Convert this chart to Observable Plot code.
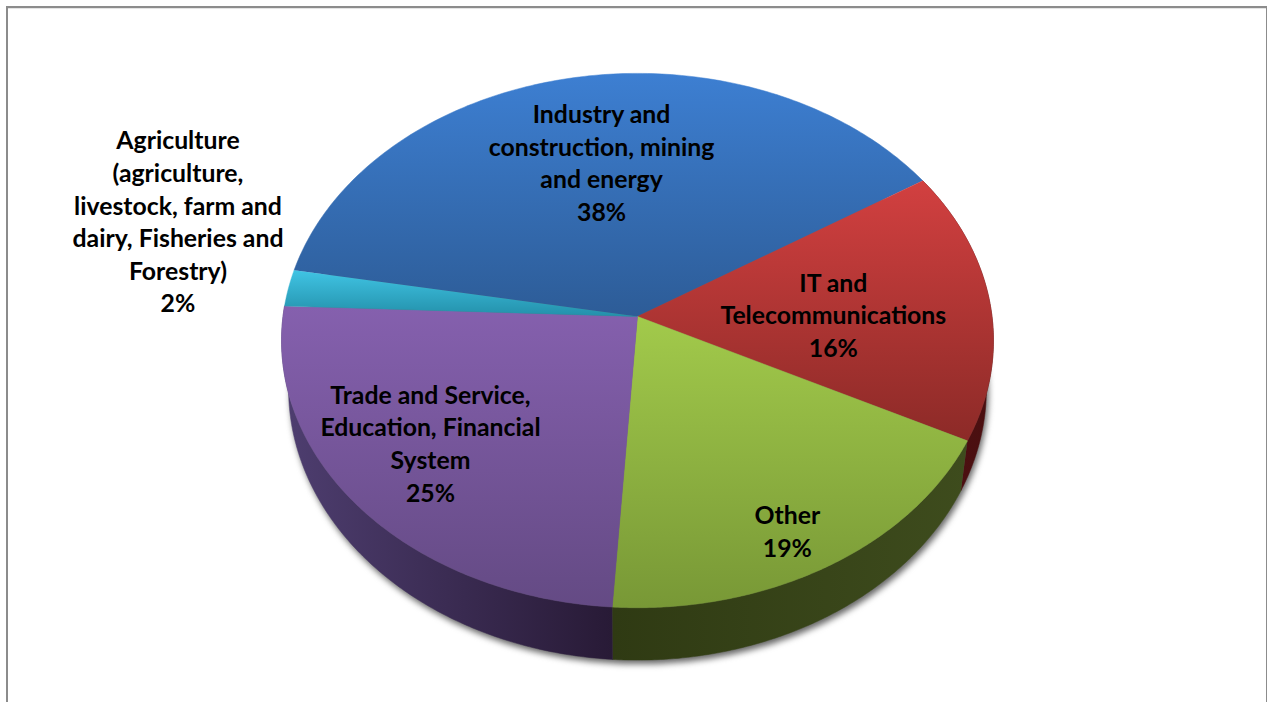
<!DOCTYPE html>
<html>
<head>
<meta charset="utf-8">
<script src="https://cdn.jsdelivr.net/npm/d3@7"></script>
<script src="https://cdn.jsdelivr.net/npm/@observablehq/plot@0.6"></script>
<style>
html,body{margin:0;padding:0;background:#fff;overflow:hidden}
#wrap{position:relative;width:1267px;height:702px}
#wrap svg{display:block;position:absolute;left:0;top:0}
#frame{position:absolute;left:6px;top:6px;width:1258px;height:700px;border:2px solid #8c8c8c;border-bottom:none;box-shadow:inset 0 1px 0 #e4e4e4;pointer-events:none}
</style>
</head>
<body>
<div id="wrap"><div id="chart"></div><div id="frame"></div></div>
<script>
// Data, clockwise from the Industry slice
const categories = [
  "Industry and\nconstruction, mining\nand energy",
  "IT and\nTelecommunications",
  "Other",
  "Trade and Service,\nEducation, Financial\nSystem",
  "Agriculture\n(agriculture,\nlivestock, farm and\ndairy, Fisheries and\nForestry)"
];
const shares = [38.15, 16.45, 18.6, 24.6, 2.2];

// Layout
const firstSliceStart = 190.2;               // degrees clockwise from 3 o'clock
const topFace = {x0: 637, y0: 316, rx: 354.5, ry: 265, k: 0.09};
const baseFace = {x0: 637, y0: 364, rx: 347.5, ry: 269, k: 0.09};
const labelAnchors = [[-0.107,-0.617],[0.553,-0.01],[0.394,0.752],[-0.56,0.455],[-1.34,-0.375]];
const topStops = [
  ["#3d7fd2","#2d5c97"],
  ["#d24040","#8c2a27"],
  ["#a2ca4b","#789836"],
  ["#8560ae","#644a84"],
  ["#40c4e4","#2390aa"]
];
const wallStops = [
  ["#2d5c97","#2d5c97"],
  ["#4e1012","#4a0f10"],
  ["#2f3a13","#3e4c1d"],
  ["#4e3e70","#281a36"],
  ["#2390aa","#2390aa"]
];

const project = (f, u, v) => {
  const s = 1 - f.k * v;
  return {x: f.x0 + f.rx * u / s, y: f.y0 + f.ry * v / s};
};
const rim = (f, a0, a1, n = 160) => d3.range(n + 1).map(i => {
  const a = (a0 + (a1 - a0) * i / n) * Math.PI / 180;
  return project(f, Math.cos(a), Math.sin(a));
});

let cursor = firstSliceStart;
const slices = shares.map((share, i) => {
  const start = cursor, end = cursor + share * 3.6;
  cursor = end;
  return {i, start, end};
});

const topPolygon = s => [{x: topFace.x0, y: topFace.y0}, ...rim(topFace, s.start, s.end)];
const wallPolygon = s => [...rim(topFace, s.start, s.end), ...rim(baseFace, s.start, s.end).reverse()];
const outline = rim(baseFace, 0, 360, 360);

const defs = () => {
  const d = d3.create("svg:defs");
  const grad = (id, stops, horizontal) => {
    const g = d.append("linearGradient").attr("id", id)
      .attr("x1", 0).attr("y1", 0).attr("x2", horizontal ? 1 : 0).attr("y2", horizontal ? 0 : 1);
    stops.forEach((c, j) => g.append("stop").attr("offset", j / (stops.length - 1)).attr("stop-color", c));
  };
  topStops.forEach((s, i) => grad("top" + i, s, false));
  wallStops.forEach((s, i) => grad("wall" + i, s, true));
  return d.node();
};

const poly = (pts, fill) => Plot.line(pts, {x: "x", y: "y", fill, stroke: fill, strokeWidth: 0.5, curve: "linear"});

const labels = categories.map((c, i) => {
  const p = project(topFace, labelAnchors[i][0], labelAnchors[i][1]);
  return {x: p.x, y: p.y, text: `${c}\n${Math.round(shares[i])}%`};
});

const chart = Plot.plot({
  width: 1267,
  height: 702,
  margin: 0,
  x: {domain: [0, 1267], range: [0, 1267], axis: null},
  y: {domain: [0, 702], range: [0, 702], axis: null},
  style: {background: "#fff"},
  marks: [
    defs,
    Plot.line(outline.map(p => ({x: p.x + 2, y: p.y + 4})), {x: "x", y: "y", fill: "#666", stroke: "none", imageFilter: "blur(3px)"}),
    ...slices.filter(s => [1, 2, 3].includes(s.i)).map(s => poly(wallPolygon(s), `url(#wall${s.i})`)),
    ...slices.map(s => poly(topPolygon(s), `url(#top${s.i})`)),
    Plot.text(labels, {
      x: "x", y: "y", text: "text", textAnchor: "middle", lineAnchor: "middle", lineHeight: 1.315,
      fontFamily: "Lato", fontWeight: 700, fontSize: 24.8, fill: "#000"
    })
  ]
});
document.getElementById("chart").appendChild(chart);
</script>
</body>
</html>
